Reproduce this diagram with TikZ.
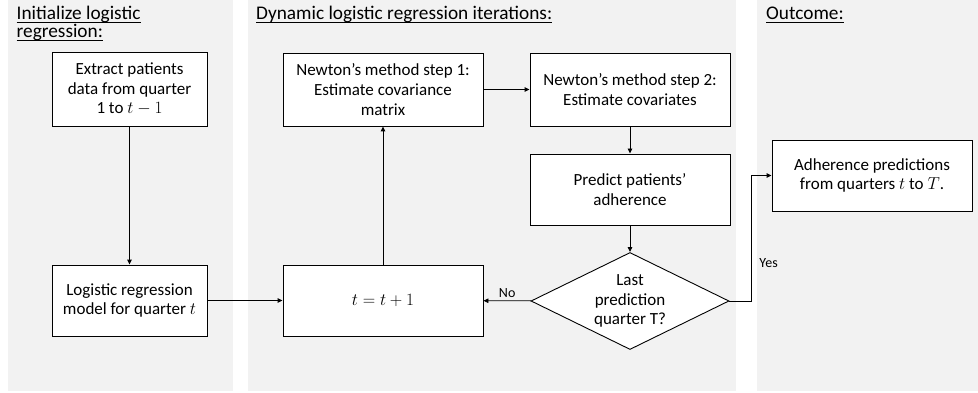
\documentclass[tikz,border=0pt]{standalone}
\usepackage{fontspec}
\setmainfont{Carlito}
\usetikzlibrary{arrows.meta,shapes.geometric}
\definecolor{panelgray}{RGB}{242,242,242}
\begin{document}
\begin{tikzpicture}[x=1pt,y=-1pt,
  font=\fontsize{17}{19.8}\selectfont,
  panel/.style={fill=panelgray,draw=none},
  box/.style={draw=black,fill=white,line width=0.9pt,align=center,inner sep=2pt},
  title/.style={inner sep=0pt,align=left,font=\fontsize{19.3}{18.5}\selectfont},
  uline/.style={line width=0.9pt},
  lbl/.style={font=\fontsize{14}{16}\selectfont,inner sep=2pt},
  conn/.style={line width=0.9pt,-{Triangle[length=5pt,width=4.5pt]}}
]
\useasboundingbox (0,0) rectangle (978,393);
% panels
\fill[panel] (8,0) rectangle (233,391);
\fill[panel] (248,0) rectangle (736,391);
\fill[panel] (757,0) rectangle (978,391);
% titles
\node[title,anchor=base west] (t1) at (16.5,20) {Initialize logistic};
\node[title,anchor=base west] (t1b) at (16.5,38) {regression:};
\node[title,anchor=base west] (t2) at (256,20) {Dynamic logistic regression iterations:};
\node[title,anchor=base west] (t3) at (766,20) {Outcome:};
\foreach \n in {t1,t1b,t2,t3}
  \draw[uline] ([yshift=-2.3pt]\n.base west) -- ([yshift=-2.3pt]\n.base east);
% boxes
\node[box,minimum width=155,minimum height=74] (ext) at (129.5,89) {Extract patients\\data from quarter\\1 to $t-1$};
\node[box,minimum width=155,minimum height=71] (log) at (129.5,300.5) {Logistic regression\\model for quarter $t$};
\node[box,minimum width=200,minimum height=73] (n1) at (383,89.5) {Newton's method step 1:\\Estimate covariance\\matrix};
\node[box,minimum width=200,minimum height=73] (n2) at (630,89.5) {Newton's method step 2:\\Estimate covariates};
\node[box,minimum width=200,minimum height=71] (pred) at (630,189.5) {Predict patients'\\adherence};
\node[box,minimum width=200,minimum height=71] (tb) at (383,300.5) {$t=t+1$};
\node[box,diamond,aspect=2,minimum width=198,minimum height=97,inner sep=0pt] (dia) at (630,301) {Last\\prediction\\quarter T?};
\node[box,minimum width=200,minimum height=71] (adh) at (872,175.5) {Adherence predictions\\from quarters $t$ to $T$.};
\coordinate (yk) at (751,301);
% connectors
\draw[conn] (ext) -- (log);
\draw[conn] (log) -- (tb);
\draw[conn] (tb) -- (n1);
\draw[conn] (n1) -- (n2);
\draw[conn] (n2) -- (pred);
\draw[conn] (pred) -- (dia);
\draw[conn] (dia) -- node[lbl,above=1pt] (no) {No} (tb);
\draw[conn] (dia.east) -- (yk) |- node[lbl,pos=0.15,anchor=west,xshift=6pt] (yes) {Yes} (adh.west);
\end{tikzpicture}
\end{document}
